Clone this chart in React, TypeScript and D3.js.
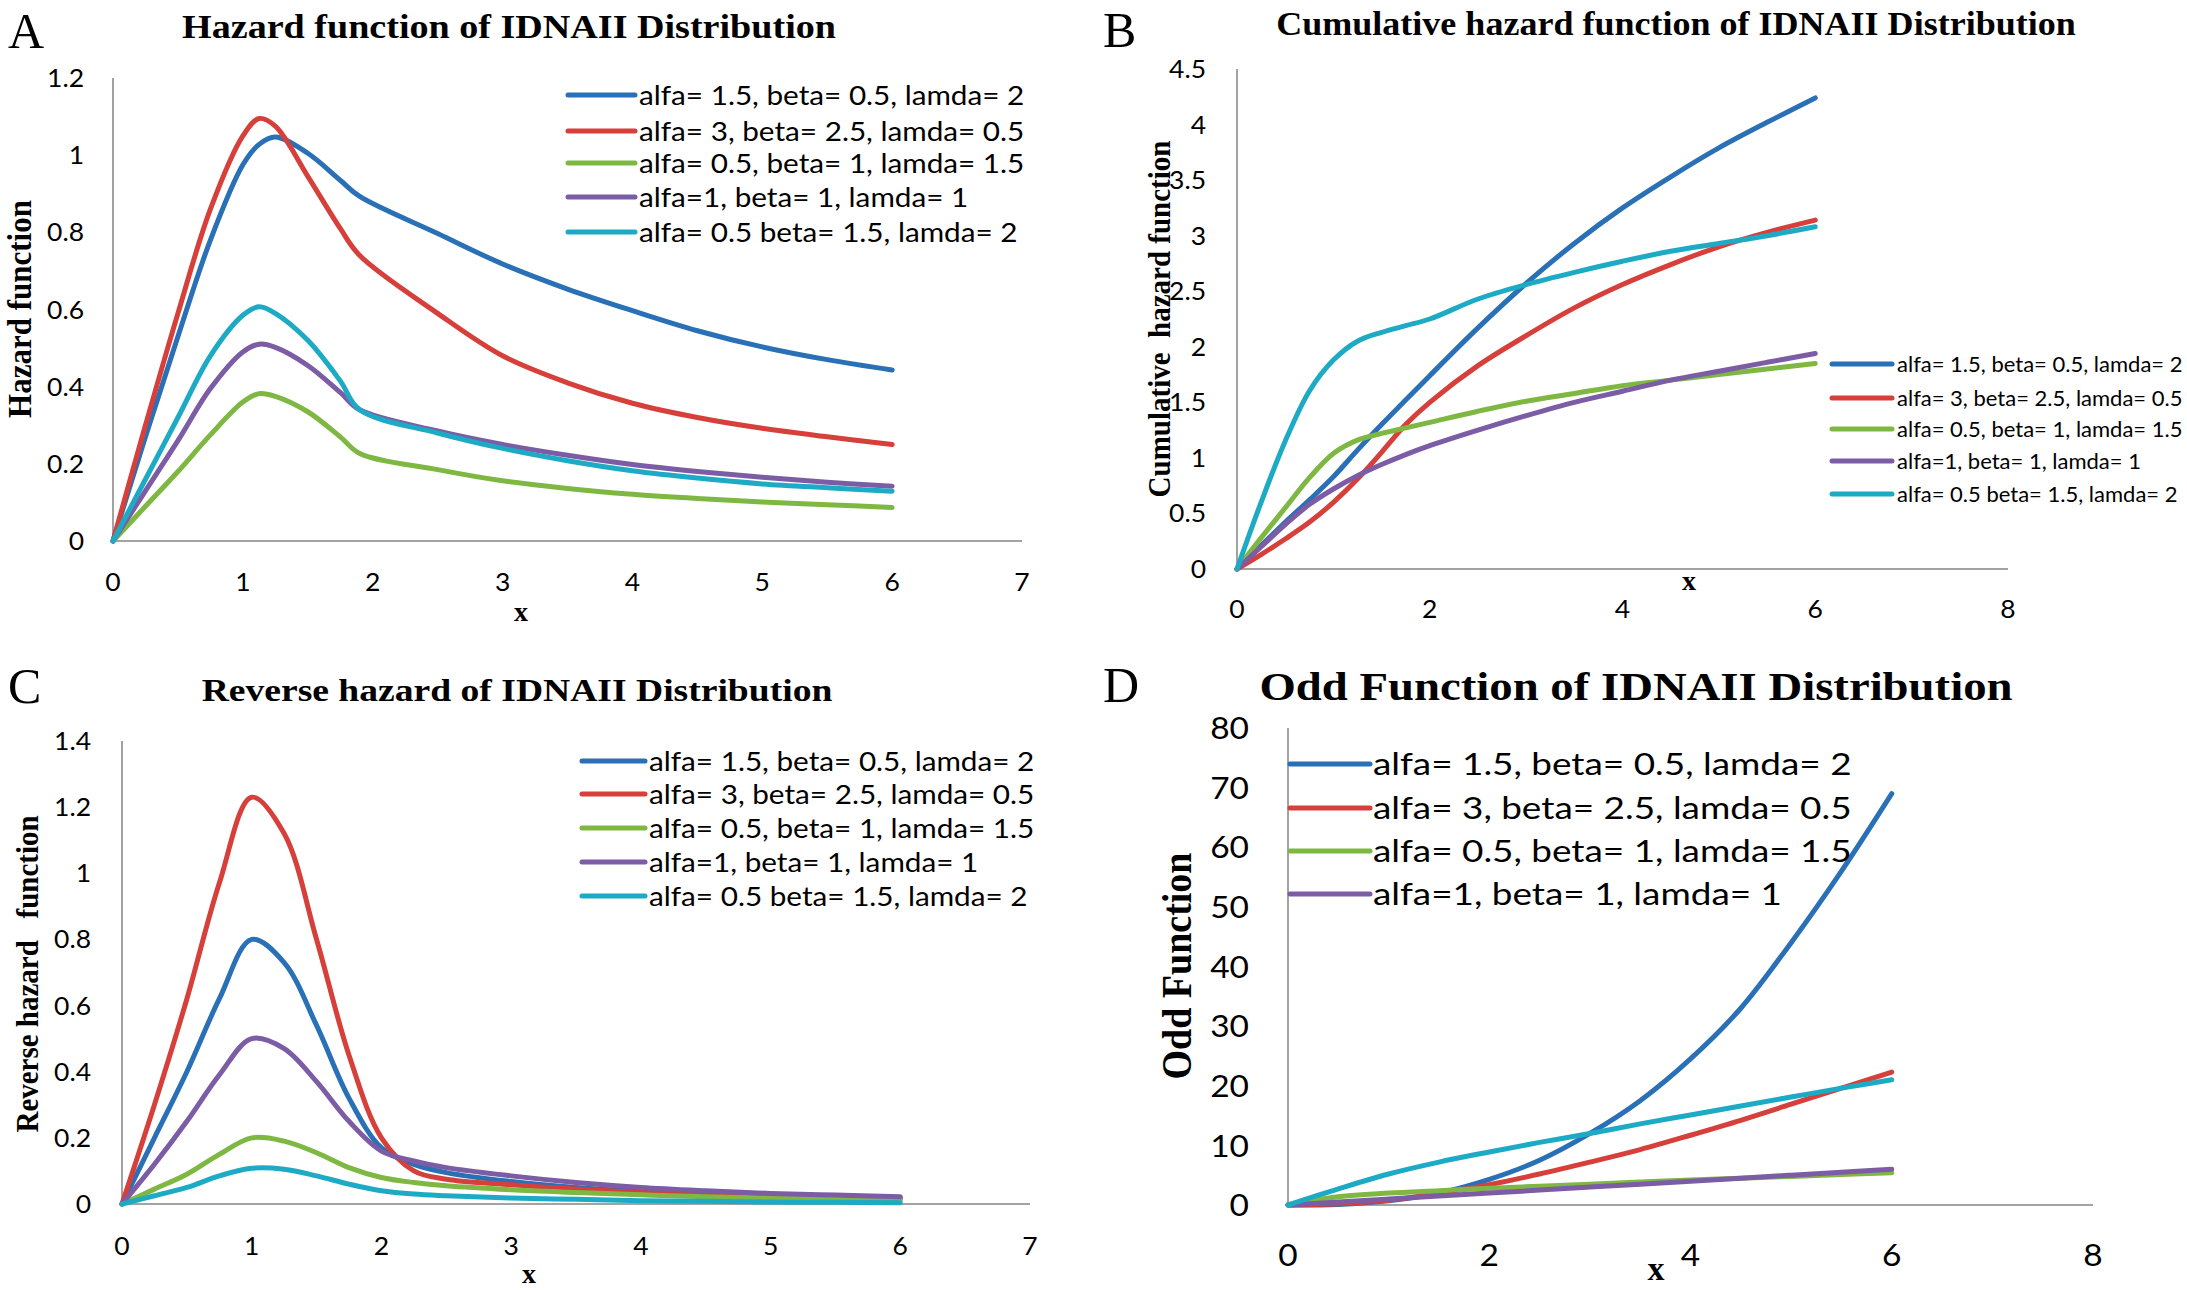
import React from 'react';
import * as d3 from 'd3';

const W = 2187;
const H = 1290;

const legendLabels = [
  'alfa= 1.5, beta= 0.5, lamda= 2',
  'alfa= 3, beta= 2.5, lamda= 0.5',
  'alfa= 0.5, beta= 1, lamda= 1.5',
  'alfa=1, beta= 1, lamda= 1',
  'alfa= 0.5 beta= 1.5, lamda= 2',
];
const seriesColors = ['#2970B6', '#D63F3A', '#7EB843', '#7B5CA5', '#1DAAC4'];

// Panel A: hazard function
const xHazard = [0, 0.25, 0.5, 0.75, 1, 1.125, 1.25, 1.5, 1.75, 1.9, 2.5, 3, 3.5, 4, 4.5, 5, 5.5, 6];
const hazardBlue = [0, 0.27, 0.53, 0.78, 0.975, 1.028, 1.047, 1.005, 0.935, 0.893, 0.797, 0.718, 0.653, 0.597, 0.545, 0.503, 0.47, 0.443];
const hazardRed = [0, 0.3, 0.59, 0.86, 1.05, 1.095, 1.075, 0.945, 0.81, 0.74, 0.59, 0.48, 0.41, 0.357, 0.32, 0.292, 0.27, 0.25];
const hazardGreen = [0, 0.09, 0.18, 0.275, 0.36, 0.382, 0.375, 0.335, 0.27, 0.227, 0.185, 0.156, 0.136, 0.121, 0.11, 0.101, 0.094, 0.087];
const hazardPurple = [0, 0.13, 0.26, 0.395, 0.49, 0.51, 0.502, 0.455, 0.385, 0.34, 0.285, 0.25, 0.222, 0.198, 0.18, 0.165, 0.152, 0.142];
const hazardCyan = [0, 0.16, 0.32, 0.48, 0.585, 0.607, 0.59, 0.52, 0.415, 0.34, 0.28, 0.24, 0.208, 0.182, 0.163, 0.148, 0.138, 0.129];

// Panel B: cumulative hazard function
const xCumulative = [0, 0.25, 0.5, 0.75, 1, 1.25, 1.5, 1.75, 2, 2.5, 3, 3.5, 4, 4.5, 5, 5.5, 6];
const cumBlue = [0, 0.21, 0.42, 0.62, 0.83, 1.07, 1.3, 1.52, 1.74, 2.17, 2.57, 2.93, 3.25, 3.53, 3.79, 4.02, 4.24];
const cumRed = [0, 0.13, 0.27, 0.42, 0.6, 0.81, 1.05, 1.3, 1.5, 1.83, 2.1, 2.35, 2.56, 2.74, 2.9, 3.03, 3.14];
const cumGreen = [0, 0.28, 0.55, 0.82, 1.04, 1.16, 1.22, 1.27, 1.32, 1.42, 1.51, 1.58, 1.65, 1.7, 1.75, 1.8, 1.85];
const cumPurple = [0, 0.2, 0.4, 0.58, 0.72, 0.84, 0.94, 1.03, 1.11, 1.25, 1.38, 1.5, 1.6, 1.7, 1.78, 1.86, 1.94];
const cumCyan = [0, 0.6, 1.15, 1.6, 1.88, 2.05, 2.13, 2.19, 2.25, 2.43, 2.56, 2.67, 2.77, 2.86, 2.93, 3.0, 3.08];

// Panel C: reverse hazard
const xReverse = [0, 0.25, 0.5, 0.75, 1, 1.25, 1.5, 1.75, 2, 2.25, 2.5, 3, 3.5, 4, 4.5, 5, 5.5, 6];
const revBlue = [0, 0.2, 0.4, 0.62, 0.8, 0.73, 0.54, 0.32, 0.17, 0.12, 0.095, 0.068, 0.05, 0.038, 0.03, 0.025, 0.021, 0.018];
const revRed = [0, 0.3, 0.62, 0.97, 1.23, 1.12, 0.8, 0.45, 0.2, 0.1, 0.075, 0.058, 0.045, 0.035, 0.028, 0.022, 0.018, 0.015];
const revGreen = [0, 0.045, 0.09, 0.15, 0.2, 0.19, 0.155, 0.11, 0.08, 0.065, 0.055, 0.043, 0.035, 0.028, 0.022, 0.018, 0.015, 0.012];
const revPurple = [0, 0.12, 0.25, 0.39, 0.5, 0.47, 0.37, 0.25, 0.16, 0.13, 0.11, 0.085, 0.065, 0.05, 0.04, 0.032, 0.027, 0.022];
const revCyan = [0, 0.025, 0.05, 0.085, 0.108, 0.105, 0.085, 0.06, 0.04, 0.03, 0.025, 0.018, 0.014, 0.01, 0.008, 0.006, 0.005, 0.004];

// Panel D: odd function
const xOdd = [0, 0.5, 1, 1.5, 2, 2.5, 3, 3.5, 4, 4.5, 5, 5.5, 6];
const oddBlue = [0, 0.1, 0.7, 2, 4.3, 7.5, 12, 17.5, 24.5, 33, 44, 56, 69];
const oddRed = [0, 0.2, 0.8, 2, 3.4, 5.2, 7.2, 9.3, 11.7, 14.2, 16.9, 19.6, 22.3];
const oddGreen = [0, 1.4, 2.0, 2.4, 2.8, 3.15, 3.5, 3.85, 4.2, 4.5, 4.8, 5.1, 5.4];
const oddPurple = [0, 0.5, 1, 1.5, 2, 2.5, 3, 3.5, 4, 4.5, 5, 5.5, 6];
const oddCyan = [0, 2.7, 5.2, 7.2, 8.9, 10.5, 12, 13.6, 15.1, 16.6, 18.1, 19.6, 21];

const ticksA = [0, 0.2, 0.4, 0.6, 0.8, 1, 1.2];
const ticksB = [0, 0.5, 1, 1.5, 2, 2.5, 3, 3.5, 4, 4.5];
const ticksC = [0, 0.2, 0.4, 0.6, 0.8, 1, 1.2, 1.4];
const ticksD = [0, 10, 20, 30, 40, 50, 60, 70, 80];
const xTicks7 = [0, 1, 2, 3, 4, 5, 6, 7];
const xTicks8 = [0, 2, 4, 6, 8];

const SERIF = "'Liberation Serif', 'Times New Roman', serif";
const SANS = "Lato, 'Noto Sans', sans-serif";

type Txt = {
  x: number; y: number; k?: number; rot?: boolean; anchor?: string; size: number;
  family: string; weight?: string | number; dy?: string; children: React.ReactNode;
};

function T({ x, y, k = 1, rot = false, anchor = 'start', size, family, weight = 'normal', dy, children }: Txt) {
  const transform = rot
    ? `translate(${x},${y}) rotate(-90) scale(1,${k})`
    : `translate(${x},${y}) scale(${k},1)`;
  return (
    <text transform={transform} textAnchor={anchor} fontSize={size} fontFamily={family}
      fontWeight={weight} dy={dy} fill="#000" style={{ whiteSpace: 'pre' }}>
      {children}
    </text>
  );
}

const panels = [
  {
    letter: 'A', letterX: 8, letterY: 48,
    title: 'Hazard function of IDNAII Distribution', titleX: 509, titleY: 38, titleSize: 33, titleK: 1.155,
    xs: xHazard, series: [hazardBlue, hazardRed, hazardGreen, hazardPurple, hazardCyan],
    xDomain: [0, 7], xRange: [113, 1022], yDomain: [0, 1.2], yRange: [541, 78],
    yTicks: ticksA, xTicks: xTicks7, tickSize: 25, tickK: 1.06, yTickRight: 84, xTickY: 582,
    yLabel: 'Hazard function', yLabelX: 20, yLabelY: 309, yLabelSize: 31, yLabelK: 1.12,
    xLabelX: 521, xLabelY: 621, xLabelSize: 28,
    legend: { x1: 568, x2: 635, tx: 639, rows: [95, 131, 163, 197, 232], size: 27, k: 1.1, n: 5 },
  },
  {
    letter: 'B', letterX: 1103, letterY: 47,
    title: 'Cumulative hazard function of IDNAII Distribution', titleX: 1676, titleY: 35, titleSize: 34, titleK: 1.06,
    xs: xCumulative, series: [cumBlue, cumRed, cumGreen, cumPurple, cumCyan],
    xDomain: [0, 8], xRange: [1237, 2008], yDomain: [0, 4.5], yRange: [569, 69],
    yTicks: ticksB, xTicks: xTicks8, tickSize: 25, tickK: 1.06, yTickRight: 1206, xTickY: 609,
    yLabel: 'Cumulative  hazard function', yLabelX: 1160, yLabelY: 319, yLabelSize: 29, yLabelK: 1.09,
    xLabelX: 1689, xLabelY: 590, xLabelSize: 28,
    legend: { x1: 1832, x2: 1892, tx: 1897, rows: [364, 398, 429, 461, 494], size: 22, k: 1.0, n: 5 },
  },
  {
    letter: 'C', letterX: 8, letterY: 703,
    title: 'Reverse hazard of IDNAII Distribution', titleX: 517, titleY: 701, titleSize: 32, titleK: 1.175,
    xs: xReverse, series: [revBlue, revRed, revGreen, revPurple, revCyan],
    xDomain: [0, 7], xRange: [122, 1030], yDomain: [0, 1.4], yRange: [1204, 741],
    yTicks: ticksC, xTicks: xTicks7, tickSize: 25, tickK: 1.06, yTickRight: 91, xTickY: 1246,
    yLabel: 'Reverse hazard   function', yLabelX: 27, yLabelY: 974, yLabelSize: 29, yLabelK: 1.12,
    xLabelX: 529, xLabelY: 1283, xLabelSize: 28,
    legend: { x1: 582, x2: 645, tx: 649, rows: [761, 794, 828, 862, 896], size: 27, k: 1.1, n: 5 },
  },
  {
    letter: 'D', letterX: 1103, letterY: 702,
    title: 'Odd Function of IDNAII Distribution', titleX: 1636, titleY: 700, titleSize: 41, titleK: 1.14,
    xs: xOdd, series: [oddBlue, oddRed, oddGreen, oddPurple, oddCyan],
    xDomain: [0, 8], xRange: [1288, 2093], yDomain: [0, 80], yRange: [1205, 728],
    yTicks: ticksD, xTicks: xTicks8, tickSize: 31, tickK: 1.08, yTickRight: 1249, xTickY: 1255,
    yLabel: 'Odd Function', yLabelX: 1177, yLabelY: 966, yLabelSize: 38, yLabelK: 1.09,
    xLabelX: 1656, xLabelY: 1280, xLabelSize: 34,
    legend: { x1: 1290, x2: 1370, tx: 1373, rows: [764, 808, 851, 894], size: 30, k: 1.23, n: 4 },
  },
];

function Panel({ p }: { p: any }) {
  const xs = d3.scaleLinear().domain(p.xDomain).range(p.xRange);
  const ys = d3.scaleLinear().domain(p.yDomain).range(p.yRange);
  const line = d3.line<number>()
    .x((_, i) => xs(p.xs[i]))
    .y((d) => ys(d))
    .curve(d3.curveCatmullRom.alpha(0.5));
  const x0 = xs(p.xDomain[0]);
  const x1 = xs(p.xDomain[1]);
  const y0 = ys(p.yDomain[0]);
  const y1 = ys(p.yDomain[1]);
  return (
    <g>
      <T x={p.letterX} y={p.letterY} size={50} family={SERIF}>{p.letter}</T>
      <T x={p.titleX} y={p.titleY} size={p.titleSize} k={p.titleK} family={SERIF} weight="bold" anchor="middle">{p.title}</T>
      <line x1={x0} x2={x0} y1={y0} y2={y1} stroke="#a3a3a3" strokeWidth={2} />
      <line x1={x0} x2={x1} y1={y0} y2={y0} stroke="#a3a3a3" strokeWidth={2} />
      {p.yTicks.map((t: number) => (
        <T key={'y' + t} x={p.yTickRight} y={ys(t)} dy="0.36em" size={p.tickSize} k={p.tickK} family={SANS} anchor="end">{String(t)}</T>
      ))}
      {p.xTicks.map((t: number) => (
        <T key={'x' + t} x={xs(t)} y={p.xTickY} dy="0.36em" size={p.tickSize} k={p.tickK} family={SANS} anchor="middle">{String(t)}</T>
      ))}
      <T x={p.yLabelX} y={p.yLabelY} rot size={p.yLabelSize} k={p.yLabelK} family={SERIF} weight="bold" anchor="middle" dy="0.33em">{p.yLabel}</T>
      <T x={p.xLabelX} y={p.xLabelY} size={p.xLabelSize} family={SERIF} weight="bold" anchor="middle">x</T>
      {p.series.map((s: number[], i: number) => (
        <path key={'s' + i} d={line(s) || ''} fill="none" stroke={seriesColors[i]} strokeWidth={5}
          strokeLinecap="round" strokeLinejoin="round" />
      ))}
      {p.legend.rows.slice(0, p.legend.n).map((ry: number, i: number) => (
        <g key={'l' + i}>
          <line x1={p.legend.x1} x2={p.legend.x2} y1={ry} y2={ry} stroke={seriesColors[i]} strokeWidth={5} strokeLinecap="round" />
          <T x={p.legend.tx} y={ry} dy="0.38em" size={p.legend.size} k={p.legend.k} family={SANS}>{legendLabels[i]}</T>
        </g>
      ))}
    </g>
  );
}

export default function App() {
  return (
    <svg width={W} height={H} viewBox={`0 0 ${W} ${H}`}
      style={{ position: 'absolute', left: 0, top: 0, background: '#fff' }}>
      <rect x={0} y={0} width={W} height={H} fill="#fff" />
      {panels.map((p) => <Panel key={p.letter} p={p} />)}
    </svg>
  );
}
